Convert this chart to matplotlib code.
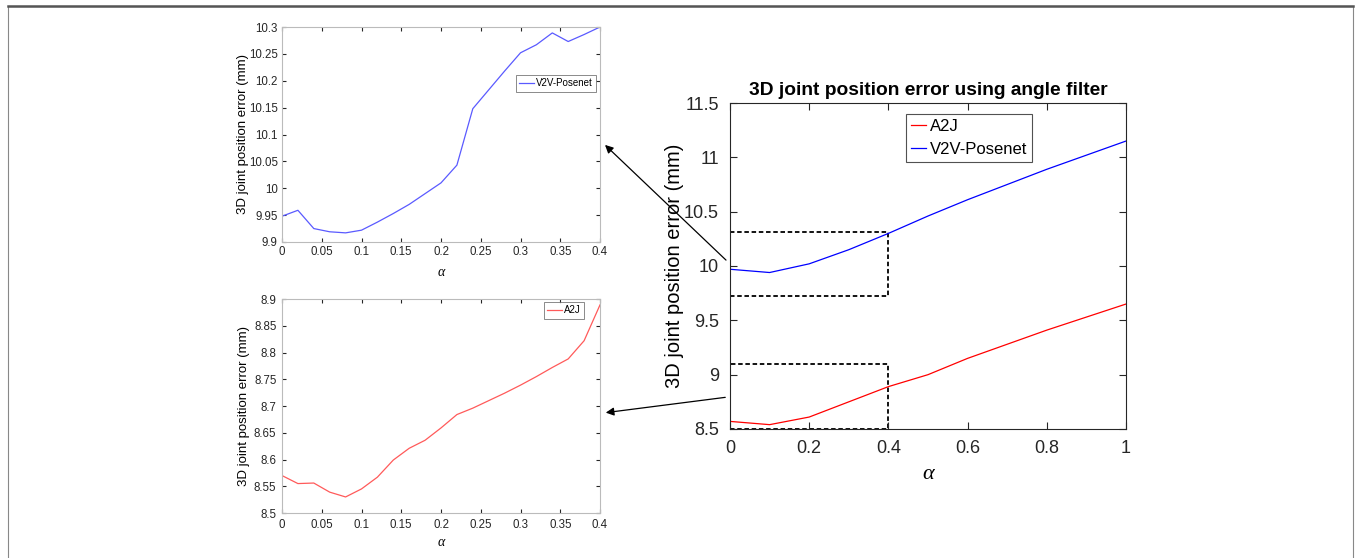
import matplotlib.pyplot as plt
import matplotlib.ticker as mticker
from matplotlib.patches import Rectangle, FancyArrowPatch

plt.rcParams['font.family'] = ['Liberation Sans', 'DejaVu Sans']

# main plot data
alpha_main = [0.0, 0.1, 0.2, 0.3, 0.4, 0.5, 0.6, 0.7, 0.8, 0.9, 1.0]
a2j_main = [8.57, 8.54, 8.61, 8.75, 8.89, 9.00, 9.15, 9.28, 9.41, 9.53, 9.65]
v2v_main = [9.97, 9.94, 10.02, 10.15, 10.30, 10.46, 10.61, 10.75, 10.89, 11.02, 11.15]

# zoomed data (alpha 0..0.4)
alpha_zoom = [0.0, 0.02, 0.04, 0.06, 0.08, 0.10, 0.12, 0.14, 0.16, 0.18, 0.20,
              0.22, 0.24, 0.26, 0.28, 0.30, 0.32, 0.34, 0.36, 0.38, 0.40]
v2v_zoom = [9.948, 9.959, 9.925, 9.919, 9.917, 9.922, 9.937, 9.953, 9.970, 9.990, 10.010,
            10.043, 10.148, 10.183, 10.218, 10.252, 10.267, 10.289, 10.273, 10.286, 10.300]
a2j_zoom = [8.570, 8.555, 8.556, 8.539, 8.530, 8.545, 8.567, 8.599, 8.621, 8.636, 8.659,
            8.684, 8.696, 8.710, 8.724, 8.739, 8.755, 8.772, 8.788, 8.822, 8.889]

W, H = 1356, 558
fig = plt.figure(figsize=(W / 100, H / 100), dpi=100)


def px_rect(l, t, r, b):
    return [l / W, 1 - b / H, (r - l) / W, (b - t) / H]


def px_pt(x, y):
    return (x / W, 1 - y / H)


def style_axes(ax, fs, spine_col, pad):
    ax.tick_params(direction='in', top=True, right=True, labelsize=fs,
                   colors='#262626', length=3, pad=pad)
    for s in ax.spines.values():
        s.set_color(spine_col)
        s.set_linewidth(0.8)
    ax.xaxis.set_major_formatter(mticker.FormatStrFormatter('%g'))
    ax.yaxis.set_major_formatter(mticker.FormatStrFormatter('%g'))


# frame around the figure
fig.patches.append(Rectangle(px_pt(8, 600), (1353 - 8) / W, (600 - 6) / H,
                             transform=fig.transFigure, fill=False,
                             edgecolor='#888888', linewidth=0.8))
fig.add_artist(plt.Line2D([8 / W, 1353 / W], [1 - 6 / H, 1 - 6 / H],
                          transform=fig.transFigure, color='#555555', linewidth=1.8))

alpha_font = dict(family=['Liberation Serif', 'DejaVu Serif'], style='italic')
zoom_xt = [0, 0.05, 0.1, 0.15, 0.2, 0.25, 0.3, 0.35, 0.4]

# upper inset: V2V-Posenet
ax1 = fig.add_axes(px_rect(282, 27, 600, 242))
ax1.plot(alpha_zoom, v2v_zoom, color='#5a5aff', linewidth=0.9, label='V2V-Posenet')
ax1.set_xlim(0, 0.4)
ax1.set_ylim(9.9, 10.3)
ax1.set_xticks(zoom_xt)
ax1.set_yticks([9.9, 9.95, 10, 10.05, 10.1, 10.15, 10.2, 10.25, 10.3])
style_axes(ax1, 8.3, '#bbbbbb', 3)
ax1.set_xlabel('\u03b1', fontsize=10, labelpad=6, **alpha_font)
ax1.set_ylabel('3D joint position error (mm)', fontsize=9.5, labelpad=0)
leg1 = ax1.legend(loc='upper right', bbox_to_anchor=(314 / 318, 167 / 215),
                  borderaxespad=0, fontsize=7, fancybox=False, handlelength=1.5,
                  borderpad=0.35, handletextpad=0.2)
leg1.get_frame().set_edgecolor('#555555')
leg1.get_frame().set_linewidth(0.6)

# lower inset: A2J
ax2 = fig.add_axes(px_rect(282, 299, 600, 513))
ax2.plot(alpha_zoom, a2j_zoom, color='#ff5a5a', linewidth=0.9, label='A2J')
ax2.set_xlim(0, 0.4)
ax2.set_ylim(8.5, 8.9)
ax2.set_xticks(zoom_xt)
ax2.set_yticks([8.5, 8.55, 8.6, 8.65, 8.7, 8.75, 8.8, 8.85, 8.9])
style_axes(ax2, 8.3, '#bbbbbb', 4)
ax2.set_xlabel('\u03b1', fontsize=10, labelpad=4, **alpha_font)
ax2.set_ylabel('3D joint position error (mm)', fontsize=9.5, labelpad=3)
leg2 = ax2.legend(loc='upper right', bbox_to_anchor=(302 / 318, 211 / 214),
                  borderaxespad=0, fontsize=7, fancybox=False, handlelength=1.5,
                  borderpad=0.35, handletextpad=0.2)
leg2.get_frame().set_edgecolor('#555555')
leg2.get_frame().set_linewidth(0.6)

# main plot
ax = fig.add_axes(px_rect(730, 103, 1126, 429))
ax.plot(alpha_main, a2j_main, color='#ff0000', linewidth=0.9, label='A2J')
ax.plot(alpha_main, v2v_main, color='#0000ff', linewidth=0.9, label='V2V-Posenet')
ax.set_xlim(0, 1)
ax.set_ylim(8.5, 11.5)
ax.set_xticks([0, 0.2, 0.4, 0.6, 0.8, 1])
ax.set_yticks([8.5, 9, 9.5, 10, 10.5, 11, 11.5])
style_axes(ax, 13, '#262626', 8)
ax.tick_params(length=5)
ax.set_xlabel('\u03b1', fontsize=16, labelpad=6, **alpha_font)
ax.set_ylabel('3D joint position error (mm)', fontsize=14.5, labelpad=0)
ax.set_title('3D joint position error using angle filter', fontsize=13.8,
             fontweight='bold', pad=6)
leg = ax.legend(loc='upper right', bbox_to_anchor=(302 / 396, 315 / 326),
                borderaxespad=0, fontsize=12, fancybox=False, handlelength=0.9,
                borderpad=0.3, handletextpad=0.2, labelspacing=0.45)
leg.get_frame().set_edgecolor('#262626')
leg.get_frame().set_linewidth(0.8)

# dashed zoom boxes
ax.add_patch(Rectangle((0, 9.72), 0.4, 10.31 - 9.72, fill=False,
                       linestyle=(0, (2.5, 1.5)), edgecolor='black', linewidth=1.3))
ax.add_patch(Rectangle((0, 8.5), 0.4, 9.1 - 8.5, fill=False,
                       linestyle=(0, (2.5, 1.5)), edgecolor='black', linewidth=1.3))

# arrows from main plot to insets
arrow = dict(arrowstyle='-|>', color='black', linewidth=0.9, mutation_scale=12)
fig.add_artist(FancyArrowPatch(px_pt(728, 262), px_pt(603, 143),
                               transform=fig.transFigure, **arrow))
fig.add_artist(FancyArrowPatch(px_pt(728, 397), px_pt(603, 413),
                               transform=fig.transFigure, **arrow))

fig.savefig('out.png', dpi=100)
